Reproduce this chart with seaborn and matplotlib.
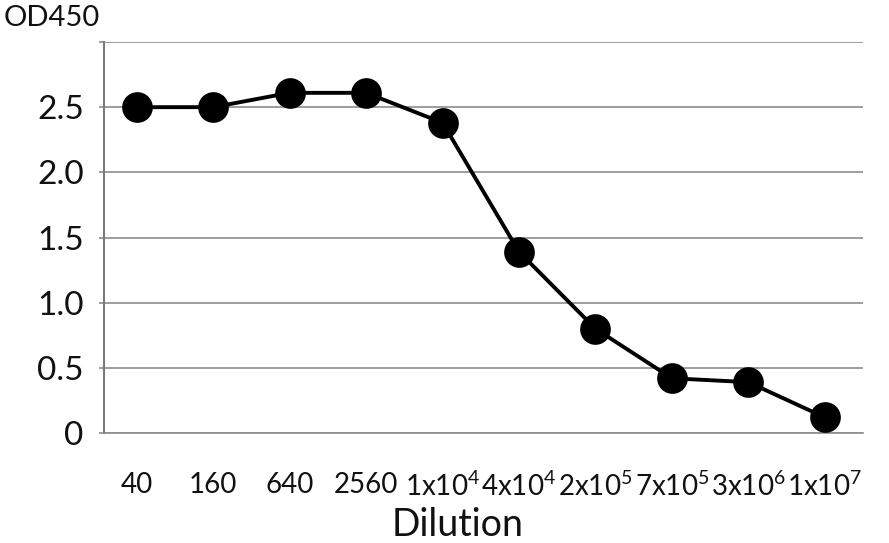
import matplotlib
matplotlib.use("Agg")
import matplotlib.pyplot as plt
import seaborn as sns
import pandas as pd

dilutions = ["40", "160", "640", "2560", "1x10$^{4}$", "4x10$^{4}$",
             "2x10$^{5}$", "7x10$^{5}$", "3x10$^{6}$", "1x10$^{7}$"]
od450 = [2.50, 2.50, 2.61, 2.61, 2.38, 1.39, 0.80, 0.42, 0.39, 0.12]
y_ticks = [0, 0.5, 1.0, 1.5, 2.0, 2.5, 3.0]
y_tick_labels = ["0", "0.5", "1.0", "1.5", "2.0", "2.5", ""]

sns.set_theme(style="white")
plt.rcParams["font.family"] = ["Lato", "DejaVu Sans"]
plt.rcParams["mathtext.fontset"] = "custom"
plt.rcParams["mathtext.rm"] = "Lato"
plt.rcParams["mathtext.it"] = "Lato:italic"
plt.rcParams["mathtext.bf"] = "Lato:bold"
plt.rcParams["mathtext.default"] = "rm"

text_color = "#111111"
df = pd.DataFrame({"Dilution": dilutions, "OD450": od450})

fig = plt.figure(figsize=(8.89, 5.43), dpi=100)
ax = fig.add_axes([104 / 889, 1 - 433 / 543, (863 - 104) / 889, (433 - 42) / 543])

for y in y_ticks:
    ax.axhline(y, color="#8c8c8c", lw=1.2, zorder=0)

sns.pointplot(data=df, x="Dilution", y="OD450", order=dilutions, color="black",
              markers="o", markersize=20, linewidth=2.8, ax=ax, zorder=3)

ax.set_xlim(-0.43, 9.5)
ax.set_ylim(0, 3.0)
ax.set_yticks(y_ticks)
ax.set_yticklabels(y_tick_labels, fontsize=24, color=text_color)
ax.tick_params(axis="y", which="both", left=True, length=3.6, width=1.2,
               color="#8c8c8c", pad=11)
ax.tick_params(axis="x", bottom=False, pad=22, labelsize=20, labelcolor=text_color)
ax.grid(False)

for s in ["top", "right"]:
    ax.spines[s].set_visible(False)
ax.spines["left"].set_color("#7a7a7a")
ax.spines["left"].set_linewidth(1.5)
ax.spines["bottom"].set_color("#8c8c8c")
ax.spines["bottom"].set_linewidth(1.2)

ax.set_xlabel("Dilution", fontsize=27, color=text_color)
ax.xaxis.set_label_coords(0.466, -0.188)
ax.set_ylabel("")
fig.text(4 / 889, 1 - 18 / 543, "OD450", fontsize=21, color=text_color,
         ha="left", va="center")

fig.savefig("out.png", dpi=100)
